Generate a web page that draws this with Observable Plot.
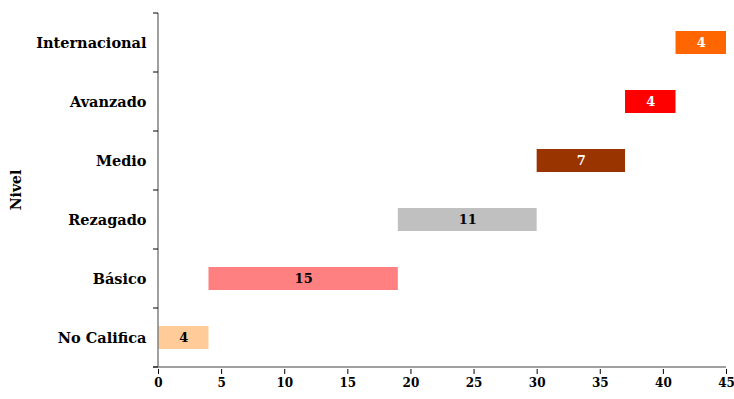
<!DOCTYPE html>
<html><head><meta charset="utf-8">
<script src="https://cdn.jsdelivr.net/npm/d3@7"></script>
<script src="https://cdn.jsdelivr.net/npm/@observablehq/plot@0.6"></script>
<style>
body{margin:0;background:#fff;}
svg{font-family:"DejaVu Serif",serif;}
</style></head><body><div id="chart"></div>
<script>
const categories = ["No Califica","Básico","Rezagado","Medio","Avanzado","Internacional"];
const values = [4,15,11,7,4,4];
const colors = ["#FFCC99","#FF8080","#C0C0C0","#993300","#FF0000","#FF6600"];
const labelColors = ["#000","#000","#000","#fff","#fff","#fff"];
const xTicks = [0,5,10,15,20,25,30,35,40,45];

let acc = 0;
const data = categories.map((c,i)=>{const d={cat:c,start:acc,end:acc+values[i],value:values[i],color:colors[i],lc:labelColors[i]};acc+=values[i];return d;});

const plot = Plot.plot({
  width:734, height:399,
  marginLeft:158, marginRight:8, marginTop:10, marginBottom:30,
  style:{fontFamily:"DejaVu Serif, serif", fontWeight:"bold", background:"#fff", overflow:"visible"},
  x:{domain:[0,45], ticks:xTicks, label:null},
  y:{domain:categories.slice().reverse(), padding:0, label:null},
  marks:[
    Plot.barX(data,{y:"cat",x1:"start",x2:"end",fill:"color",insetTop:18,insetBottom:18}),
    Plot.text(data,{y:"cat",x:d=>(d.start+d.end)/2,text:d=>String(d.value),fill:"lc",fontSize:13,fontWeight:"bold"}),
    Plot.axisX({ticks:xTicks,tickSize:5,tickPadding:4,stroke:"#000",fontSize:12,fontWeight:"bold",fill:"#000",label:null}),
    Plot.axisY({tickSize:0,tickPadding:12,fontSize:14.5,fontWeight:"bold",fill:"#000",label:null})
  ]
});
const svg = d3.select(plot);
const xs = plot.scale("x"), ys = plot.scale("y");
const x0 = xs.apply(0), x1 = xs.apply(45);
const y0 = d3.min(categories, c=>ys.apply(c)), y1 = d3.max(categories, c=>ys.apply(c)) + ys.bandwidth;
svg.append("line").attr("x1",x0).attr("x2",x0).attr("y1",y0).attr("y2",y1).attr("stroke","#808080").attr("stroke-width",1.5);
svg.append("line").attr("x1",x0-5).attr("x2",x1).attr("y1",y1).attr("y2",y1).attr("stroke","#808080").attr("stroke-width",1.5);
const bounds = categories.map(c=>ys.apply(c)).concat([y1]);
bounds.forEach(b=>svg.append("line").attr("x1",x0-5).attr("x2",x0).attr("y1",b).attr("y2",b).attr("stroke","#000").attr("stroke-width",1));
svg.append("text").attr("transform",`translate(21,${(y0+y1)/2}) rotate(-90)`).attr("text-anchor","middle").attr("font-size",14).attr("font-weight","bold").attr("fill","#000").text("Nivel");
document.getElementById("chart").appendChild(plot);
</script></body></html>
